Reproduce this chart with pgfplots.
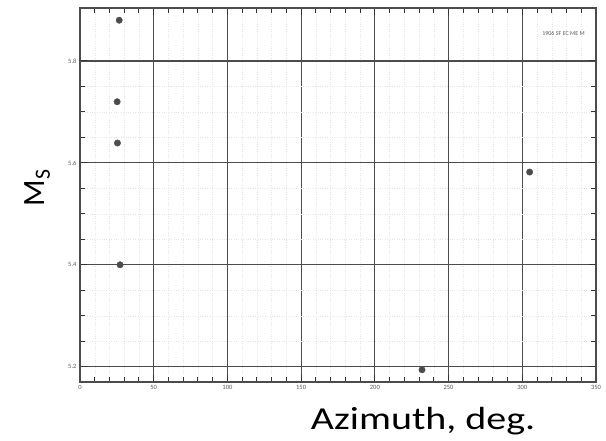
\documentclass[border=0pt]{standalone}
\usepackage{pgfplots}
\pgfplotsset{compat=1.18}
\usepackage{fontspec}
\setmainfont{Carlito}
\begin{document}
\begin{tikzpicture}
\begin{axis}[
  scale only axis, width=516pt, height=374pt,
  xmin=0, xmax=350, ymin=5.17, ymax=5.904,
  xtick={0,50,...,350}, minor x tick num=4,
  ytick={5.2,5.4,5.6,5.8}, minor y tick num=3,
  yticklabel style={/pgf/number format/fixed, /pgf/number format/precision=1, /pgf/number format/fixed zerofill},
  tick label style={font=\fontsize{6.5}{6.5}\selectfont, text=black!65},
  /pgf/number format/assume math mode=true,
  tick align=inside, major tick length=7pt, minor tick length=5pt,
  every tick/.style={black!80, line width=1pt},
  grid=both,
  major grid style={black!70, line width=1.1pt},
  minor grid style={black!10, line width=0.4pt, dotted},
  axis line style={black!70, line width=1.2pt},
  xlabel={}, ylabel={},
  clip=false,
]
\addplot[only marks, mark=*, mark size=3.2pt, mark options={fill=black!70, draw=black!70}] coordinates {
  (26.6,5.880) (25.2,5.720) (25.4,5.639) (27.2,5.400) (305,5.582) (232,5.194)
};
\node[anchor=east, font=\fontsize{6}{6}\selectfont, text=black!65] at (rel axis cs:0.985,0.932) {1906 SF EC ME M};
\node[font=\fontsize{32}{32}\selectfont, xscale=1.25, anchor=center] at (rel axis cs:0.665,-0.105) {Azimuth, deg.};
\node[font=\fontsize{31}{31}\selectfont, rotate=90, anchor=center] at (rel axis cs:-0.083,0.52) {M\textsubscript{S}};
\end{axis}
\pgfresetboundingbox
\path (-80pt,-59pt) rectangle (526pt,382pt);
\end{tikzpicture}
\end{document}
